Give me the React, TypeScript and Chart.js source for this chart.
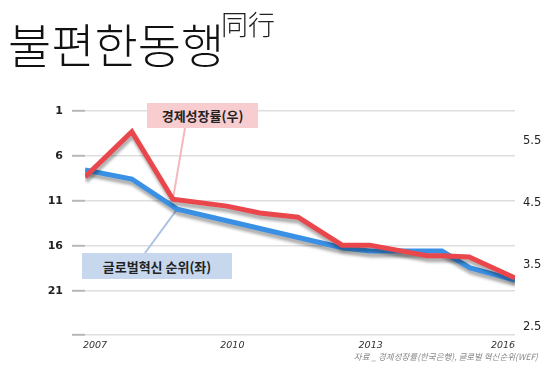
import React, { useEffect, useRef } from "react";
import { Chart, registerables } from "chart.js";

Chart.register(...registerables);

// ---- data ----
const yearTicks = [2007, 2010, 2013, 2016];
const rankTicks = [1, 6, 11, 16, 21];
const growthTicks = [2.5, 3.5, 4.5, 5.5];

// 경제성장률(우) — right axis, %
const growthX = [2007, 2007.98, 2008.84, 2009.97, 2010.66, 2011.46, 2012.38, 2012.96, 2014.16, 2014.47, 2015.04, 2016];
const growthRate = [4.92, 5.65, 4.56, 4.45, 4.34, 4.27, 3.82, 3.82, 3.65, 3.65, 3.63, 3.29];

// 글로벌혁신 순위(좌) — left axis, rank
const rankX = [2007, 2007.98, 2008.93, 2010.08, 2012.38, 2012.96, 2014.47, 2015.06, 2016];
const innovationRank = [7.56, 8.56, 11.9, 13.33, 16.2, 16.56, 16.56, 18.44, 19.78];

const RED = "#e9474c";
const BLUE = "#3a90e5";

// small pixel nudges for the year labels (as placed in the picture)
const yearLabelNudge = [10, 4, -1, -12];

const shadowPlugin = {
  id: "lineShadow",
  beforeDatasetDraw(chart: any) {
    const c = chart.ctx;
    c.save();
    c.shadowColor = "rgba(0,0,0,0.32)";
    c.shadowBlur = 3;
    c.shadowOffsetX = 1;
    c.shadowOffsetY = 4;
  },
  afterDatasetDraw(chart: any) {
    chart.ctx.restore();
  },
};

const pointerPlugin = {
  id: "pointers",
  beforeDatasetsDraw(chart: any) {
    const c = chart.ctx;
    const x = chart.scales.x;
    const yL = chart.scales.y;
    const yR = chart.scales.y2;
    c.save();
    c.lineWidth = 2;
    c.strokeStyle = "#f3b9bc";
    c.beginPath();
    c.moveTo(185, 128);
    c.lineTo(x.getPixelForValue(growthX[2]), yR.getPixelForValue(growthRate[2]));
    c.stroke();
    c.strokeStyle = "#aac3e4";
    c.beginPath();
    c.moveTo(145, 253);
    c.lineTo(x.getPixelForValue(rankX[2]), yL.getPixelForValue(innovationRank[2]));
    c.stroke();
    c.restore();
  },
};

export default function App() {
  const ref = useRef<HTMLCanvasElement | null>(null);

  useEffect(() => {
    if (!ref.current) return;
    const pxPerYear = (515 - 85) / 9;
    const chart = new Chart(ref.current, {
      type: "line",
      data: {
        datasets: [
          {
            label: "경제성장률(우)",
            data: growthX.map((x, i) => ({ x, y: growthRate[i] })),
            yAxisID: "y2",
            borderColor: RED,
            borderWidth: 5,
            pointRadius: 0,
            tension: 0,
          },
          {
            label: "글로벌혁신 순위(좌)",
            data: rankX.map((x, i) => ({ x, y: innovationRank[i] })),
            yAxisID: "y",
            borderColor: BLUE,
            borderWidth: 5,
            pointRadius: 0,
            tension: 0,
          },
        ],
      },
      options: {
        animation: false,
        responsive: false,
        devicePixelRatio: 1,
        layout: { padding: { top: 111, left: 0, right: 0, bottom: 0 } },
        plugins: { legend: { display: false }, tooltip: { enabled: false } },
        scales: {
          x: {
            type: "linear",
            min: 2007,
            max: 2016,
            afterBuildTicks: (s: any) => {
              s.ticks = yearTicks.map((v, i) => ({ value: v + yearLabelNudge[i] / pxPerYear }));
            },
            afterFit: (s: any) => {
              s.height = 45;
            },
            grid: { display: false, drawTicks: false },
            border: { display: false },
            ticks: {
              autoSkip: false,
              maxRotation: 0,
              padding: 5,
              color: "#333",
              font: { family: "'DejaVu Sans'", size: 9.5, style: "italic" },
              callback: (v: any) => String(Math.round(Number(v))),
            },
          },
          y: {
            type: "linear",
            position: "left",
            reverse: true,
            min: 1,
            max: 1 + 224 / 9,
            afterBuildTicks: (s: any) => {
              s.ticks = [...rankTicks, 1 + 224 / 9].map((v) => ({ value: v }));
            },
            afterFit: (s: any) => {
              s.width = 85;
            },
            grid: {
              color: "#dedede",
              lineWidth: 1.6,
              tickLength: 13,
              tickColor: "#b8b8b8",
              tickWidth: 2,
            },
            border: { display: false },
            ticks: {
              padding: 9,
              color: "#222",
              font: { family: "'DejaVu Sans'", size: 11, weight: "bold" },
              callback: (v: any) => (rankTicks.includes(Number(v)) ? String(v) : ""),
            },
          },
          y2: {
            type: "linear",
            position: "right",
            min: 2.5 - 8 / 62,
            max: 2.5 - 8 / 62 + 224 / 62,
            afterBuildTicks: (s: any) => {
              s.ticks = growthTicks.map((v) => ({ value: v }));
            },
            afterFit: (s: any) => {
              s.width = 39;
            },
            grid: { display: false, drawTicks: false },
            border: { display: false },
            ticks: {
              padding: 8,
              color: "#222",
              font: { family: "'DejaVu Sans'", size: 11.5 },
              callback: (v: any) => Number(v).toFixed(1),
            },
          },
        },
      },
      plugins: [pointerPlugin, shadowPlugin],
    } as any);
    return () => chart.destroy();
  }, []);

  const kr = "'Noto Sans CJK KR', 'Noto Sans', sans-serif";

  return (
    <div
      style={{
        position: "absolute",
        left: 0,
        top: 0,
        width: 554,
        height: 380,
        background: "#fff",
        overflow: "hidden",
        fontFamily: kr,
      }}
    >
      <canvas ref={ref} width={554} height={380} style={{ display: "block", width: 554, height: 380 }} />
      <div
        style={{
          position: "absolute",
          left: 8,
          top: 19,
          fontSize: 47,
          lineHeight: "48px",
          fontWeight: 300,
          color: "#111",
          whiteSpace: "nowrap",
        }}
      >
        불편한동행
      </div>
      <div
        style={{
          position: "absolute",
          left: 221,
          top: 10,
          fontSize: 27,
          lineHeight: "27px",
          fontWeight: 300,
          color: "#222",
          whiteSpace: "nowrap",
        }}
      >
        同行
      </div>
      <div
        style={{
          position: "absolute",
          left: 147,
          top: 103,
          width: 111,
          height: 25,
          background: "#f8cdd0",
          display: "flex",
          alignItems: "center",
          justifyContent: "center",
          fontSize: 13,
          fontWeight: 700,
          color: "#222",
          whiteSpace: "nowrap",
        }}
      >
        경제성장률(우)
      </div>
      <div
        style={{
          position: "absolute",
          left: 82,
          top: 253,
          width: 150,
          height: 26,
          background: "#c7d8ee",
          display: "flex",
          alignItems: "center",
          justifyContent: "center",
          fontSize: 13,
          fontWeight: 700,
          color: "#222",
          whiteSpace: "nowrap",
        }}
      >
        글로벌혁신 순위(좌)
      </div>
      <div
        style={{
          position: "absolute",
          right: 16,
          top: 350,
          fontSize: 8.5,
          lineHeight: "12px",
          fontStyle: "italic",
          color: "#888",
          whiteSpace: "nowrap",
        }}
      >
        자료 _ 경제성장률(한국은행), 글로벌 혁신순위(WEF)
      </div>
    </div>
  );
}
